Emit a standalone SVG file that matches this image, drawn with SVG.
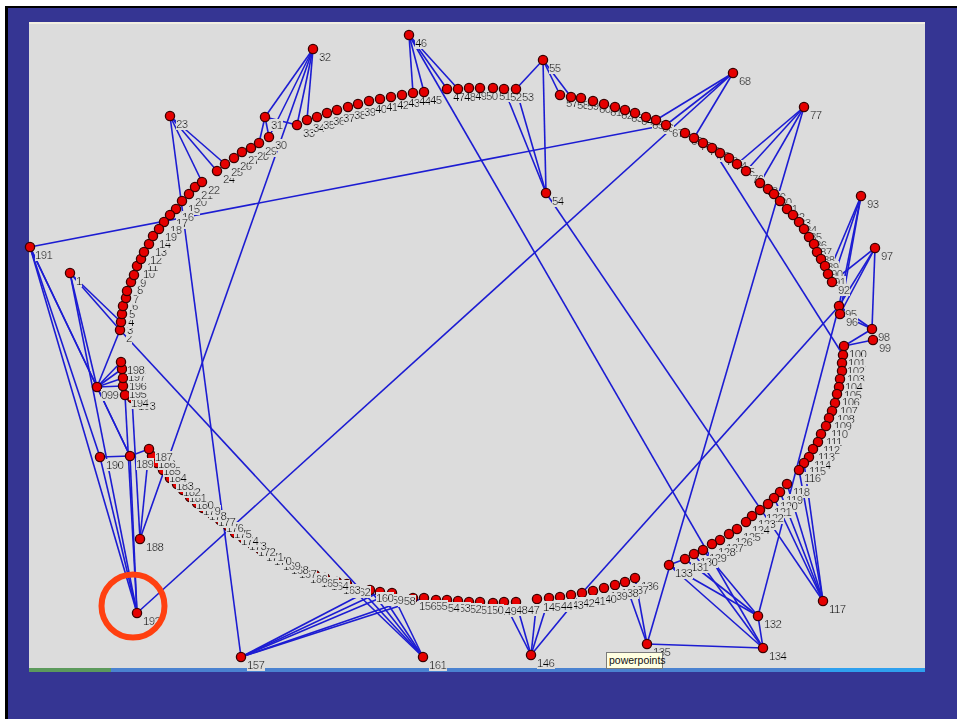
<svg xmlns="http://www.w3.org/2000/svg" width="957" height="719" viewBox="0 0 957 719">
<style>
.e line{stroke:#1c1cd2;stroke-width:1.6}
.nd circle{fill:#e60000;stroke:#3a0000;stroke-width:1.3}
.nd text{font-family:"Liberation Sans",Arial,sans-serif;font-size:11.5px;letter-spacing:-0.6px;fill:#000;filter:url(#bg)}
</style>
<defs>
<filter id="bg" x="0" y="0" width="1" height="1"><feFlood flood-color="#dcdcdc"/><feComposite in="SourceGraphic" operator="over"/></filter>
</defs>
<rect width="957" height="719" fill="#fff"/>
<rect x="5" y="6" width="952" height="713" fill="#000"/>
<rect x="8" y="8" width="949" height="711" fill="#353593"/>
<rect x="29" y="22" width="896" height="648" fill="#dcdcdc"/>
<rect x="29" y="22" width="896" height="2" fill="#f2efe2"/>
<rect x="29" y="668" width="82" height="4" fill="#5c9a5c"/>
<rect x="111" y="668" width="709" height="4" fill="#4a82d0"/>
<rect x="820" y="668" width="105" height="4" fill="#2fa0ee"/>
<g id="edges" class="e">
<line x1="30" y1="247" x2="666" y2="125"/>
<line x1="30" y1="247" x2="97" y2="387"/>
<line x1="30" y1="247" x2="130" y2="456"/>
<line x1="30" y1="247" x2="137" y2="613"/>
<line x1="30" y1="247" x2="100" y2="457"/>
<line x1="70" y1="273" x2="120" y2="330"/>
<line x1="70" y1="273" x2="121" y2="322"/>
<line x1="70" y1="273" x2="97" y2="387"/>
<line x1="70" y1="273" x2="137" y2="613"/>
<line x1="97" y1="387" x2="120" y2="330"/>
<line x1="97" y1="387" x2="121" y2="362"/>
<line x1="97" y1="387" x2="122" y2="369"/>
<line x1="97" y1="387" x2="123" y2="378"/>
<line x1="97" y1="387" x2="123" y2="386"/>
<line x1="97" y1="387" x2="130" y2="456"/>
<line x1="120" y1="330" x2="423" y2="657"/>
<line x1="125" y1="395" x2="137" y2="613"/>
<line x1="132" y1="398" x2="140" y2="539"/>
<line x1="100" y1="457" x2="130" y2="456"/>
<line x1="100" y1="457" x2="137" y2="613"/>
<line x1="130" y1="456" x2="137" y2="613"/>
<line x1="130" y1="456" x2="149" y2="449"/>
<line x1="149" y1="449" x2="140" y2="539"/>
<line x1="313" y1="49" x2="140" y2="539"/>
<line x1="170" y1="116" x2="241" y2="657"/>
<line x1="170" y1="116" x2="202" y2="182"/>
<line x1="170" y1="116" x2="217" y2="171"/>
<line x1="170" y1="116" x2="225" y2="164"/>
<line x1="313" y1="49" x2="265" y2="117"/>
<line x1="313" y1="49" x2="269" y2="137"/>
<line x1="313" y1="49" x2="297" y2="125"/>
<line x1="313" y1="49" x2="307" y2="120"/>
<line x1="265" y1="117" x2="297" y2="125"/>
<line x1="265" y1="117" x2="269" y2="137"/>
<line x1="265" y1="117" x2="259" y2="143"/>
<line x1="409" y1="35" x2="413" y2="93"/>
<line x1="409" y1="35" x2="424" y2="92"/>
<line x1="409" y1="35" x2="447" y2="89"/>
<line x1="409" y1="35" x2="458" y2="89"/>
<line x1="409" y1="35" x2="763" y2="648"/>
<line x1="543" y1="60" x2="516" y2="89"/>
<line x1="543" y1="60" x2="560" y2="95"/>
<line x1="543" y1="60" x2="571" y2="97"/>
<line x1="543" y1="60" x2="546" y2="193"/>
<line x1="546" y1="193" x2="504" y2="89"/>
<line x1="546" y1="193" x2="516" y2="89"/>
<line x1="546" y1="193" x2="823" y2="601"/>
<line x1="733" y1="73" x2="656" y2="120"/>
<line x1="733" y1="73" x2="666" y2="125"/>
<line x1="733" y1="73" x2="694" y2="138"/>
<line x1="733" y1="73" x2="137" y2="613"/>
<line x1="712" y1="148" x2="843" y2="355"/>
<line x1="804" y1="107" x2="737" y2="164"/>
<line x1="804" y1="107" x2="746" y2="171"/>
<line x1="804" y1="107" x2="760" y2="183"/>
<line x1="804" y1="107" x2="647" y2="644"/>
<line x1="861" y1="196" x2="828" y2="274"/>
<line x1="861" y1="196" x2="832" y2="282"/>
<line x1="861" y1="196" x2="839" y2="306"/>
<line x1="861" y1="196" x2="840" y2="314"/>
<line x1="875" y1="248" x2="832" y2="282"/>
<line x1="875" y1="248" x2="839" y2="306"/>
<line x1="875" y1="248" x2="840" y2="314"/>
<line x1="875" y1="248" x2="872" y2="329"/>
<line x1="872" y1="329" x2="839" y2="306"/>
<line x1="872" y1="329" x2="840" y2="314"/>
<line x1="872" y1="329" x2="844" y2="346"/>
<line x1="873" y1="340" x2="844" y2="346"/>
<line x1="839" y1="306" x2="758" y2="616"/>
<line x1="582" y1="593" x2="839" y2="306"/>
<line x1="823" y1="601" x2="804" y2="463"/>
<line x1="823" y1="601" x2="799" y2="470"/>
<line x1="823" y1="601" x2="787" y2="484"/>
<line x1="823" y1="601" x2="780" y2="492"/>
<line x1="823" y1="601" x2="774" y2="498"/>
<line x1="669" y1="565" x2="685" y2="559"/>
<line x1="669" y1="565" x2="758" y2="616"/>
<line x1="669" y1="565" x2="763" y2="648"/>
<line x1="685" y1="559" x2="758" y2="616"/>
<line x1="694" y1="554" x2="763" y2="648"/>
<line x1="703" y1="550" x2="758" y2="616"/>
<line x1="758" y1="616" x2="763" y2="648"/>
<line x1="647" y1="644" x2="763" y2="648"/>
<line x1="647" y1="644" x2="635" y2="578"/>
<line x1="647" y1="644" x2="625" y2="582"/>
<line x1="531" y1="655" x2="504" y2="602"/>
<line x1="531" y1="655" x2="516" y2="602"/>
<line x1="531" y1="655" x2="537" y2="599"/>
<line x1="531" y1="655" x2="549" y2="598"/>
<line x1="531" y1="655" x2="582" y2="593"/>
<line x1="241" y1="657" x2="370" y2="590"/>
<line x1="241" y1="657" x2="380" y2="592"/>
<line x1="241" y1="657" x2="392" y2="593"/>
<line x1="241" y1="657" x2="413" y2="598"/>
<line x1="241" y1="657" x2="424" y2="598"/>
<line x1="423" y1="657" x2="347" y2="584"/>
<line x1="423" y1="657" x2="370" y2="590"/>
<line x1="423" y1="657" x2="380" y2="592"/>
<line x1="423" y1="657" x2="392" y2="593"/>
</g>
<g id="nodes" class="nd">
<g id="n1"><circle cx="70" cy="273" r="4.6"/><text x="76" y="285">1</text></g>
<g id="n2"><circle cx="120" cy="330" r="4.6"/><text x="126" y="342">2</text></g>
<g id="n3"><circle cx="121" cy="322" r="4.6"/><text x="127" y="334">3</text></g>
<g id="n4"><circle cx="122" cy="314" r="4.6"/><text x="128" y="326">4</text></g>
<g id="n5"><circle cx="123" cy="306" r="4.6"/><text x="129" y="318">5</text></g>
<g id="n6"><circle cx="126" cy="298" r="4.6"/><text x="132" y="310">6</text></g>
<g id="n7"><circle cx="127" cy="291" r="4.6"/><text x="133" y="303">7</text></g>
<g id="n8"><circle cx="131" cy="282" r="4.6"/><text x="137" y="294">8</text></g>
<g id="n9"><circle cx="134" cy="275" r="4.6"/><text x="140" y="287">9</text></g>
<g id="n10"><circle cx="137" cy="266" r="4.6"/><text x="143" y="278">10</text></g>
<g id="n11"><circle cx="141" cy="259" r="4.6"/><text x="147" y="271">11</text></g>
<g id="n12"><circle cx="144" cy="252" r="4.6"/><text x="150" y="264">12</text></g>
<g id="n13"><circle cx="149" cy="244" r="4.6"/><text x="155" y="256">13</text></g>
<g id="n14"><circle cx="153" cy="236" r="4.6"/><text x="159" y="248">14</text></g>
<g id="n15"><circle cx="182" cy="201" r="4.6"/><text x="188" y="213">15</text></g>
<g id="n16"><circle cx="176" cy="209" r="4.6"/><text x="182" y="221">16</text></g>
<g id="n17"><circle cx="170" cy="215" r="4.6"/><text x="176" y="227">17</text></g>
<g id="n18"><circle cx="164" cy="222" r="4.6"/><text x="170" y="234">18</text></g>
<g id="n19"><circle cx="159" cy="229" r="4.6"/><text x="165" y="241">19</text></g>
<g id="n20"><circle cx="189" cy="194" r="4.6"/><text x="195" y="206">20</text></g>
<g id="n21"><circle cx="195" cy="187" r="4.6"/><text x="201" y="199">21</text></g>
<g id="n22"><circle cx="202" cy="182" r="4.6"/><text x="208" y="194">22</text></g>
<g id="n23"><circle cx="170" cy="116" r="4.6"/><text x="176" y="128">23</text></g>
<g id="n24"><circle cx="217" cy="171" r="4.6"/><text x="223" y="183">24</text></g>
<g id="n25"><circle cx="225" cy="164" r="4.6"/><text x="231" y="176">25</text></g>
<g id="n26"><circle cx="234" cy="158" r="4.6"/><text x="240" y="170">26</text></g>
<g id="n27"><circle cx="242" cy="152" r="4.6"/><text x="248" y="164">27</text></g>
<g id="n28"><circle cx="251" cy="148" r="4.6"/><text x="257" y="160">28</text></g>
<g id="n29"><circle cx="259" cy="143" r="4.6"/><text x="265" y="155">29</text></g>
<g id="n30"><circle cx="269" cy="137" r="4.6"/><text x="275" y="149">30</text></g>
<g id="n31"><circle cx="265" cy="117" r="4.6"/><text x="271" y="129">31</text></g>
<g id="n32"><circle cx="313" cy="49" r="4.6"/><text x="319" y="61">32</text></g>
<g id="n33"><circle cx="297" cy="125" r="4.6"/><text x="303" y="137">33</text></g>
<g id="n34"><circle cx="307" cy="120" r="4.6"/><text x="313" y="132">34</text></g>
<g id="n35"><circle cx="317" cy="117" r="4.6"/><text x="323" y="129">35</text></g>
<g id="n36"><circle cx="327" cy="113" r="4.6"/><text x="333" y="125">36</text></g>
<g id="n37"><circle cx="337" cy="110" r="4.6"/><text x="343" y="122">37</text></g>
<g id="n38"><circle cx="348" cy="107" r="4.6"/><text x="354" y="119">38</text></g>
<g id="n39"><circle cx="358" cy="104" r="4.6"/><text x="364" y="116">39</text></g>
<g id="n40"><circle cx="369" cy="101" r="4.6"/><text x="375" y="113">40</text></g>
<g id="n41"><circle cx="380" cy="99" r="4.6"/><text x="386" y="111">41</text></g>
<g id="n42"><circle cx="391" cy="97" r="4.6"/><text x="397" y="109">42</text></g>
<g id="n43"><circle cx="402" cy="95" r="4.6"/><text x="408" y="107">43</text></g>
<g id="n44"><circle cx="413" cy="93" r="4.6"/><text x="419" y="105">44</text></g>
<g id="n45"><circle cx="424" cy="92" r="4.6"/><text x="430" y="104">45</text></g>
<g id="n46"><circle cx="409" cy="35" r="4.6"/><text x="415" y="47">46</text></g>
<g id="n47"><circle cx="447" cy="89" r="4.6"/><text x="453" y="101">47</text></g>
<g id="n48"><circle cx="458" cy="89" r="4.6"/><text x="464" y="101">48</text></g>
<g id="n49"><circle cx="469" cy="88" r="4.6"/><text x="475" y="100">49</text></g>
<g id="n50"><circle cx="480" cy="88" r="4.6"/><text x="486" y="100">50</text></g>
<g id="n51"><circle cx="493" cy="88" r="4.6"/><text x="499" y="100">51</text></g>
<g id="n52"><circle cx="504" cy="89" r="4.6"/><text x="510" y="101">52</text></g>
<g id="n53"><circle cx="516" cy="89" r="4.6"/><text x="522" y="101">53</text></g>
<g id="n54"><circle cx="546" cy="193" r="4.6"/><text x="552" y="205">54</text></g>
<g id="n55"><circle cx="543" cy="60" r="4.6"/><text x="549" y="72">55</text></g>
<g id="n57"><circle cx="560" cy="95" r="4.6"/><text x="566" y="107">57</text></g>
<g id="n58"><circle cx="571" cy="97" r="4.6"/><text x="577" y="109">58</text></g>
<g id="n59"><circle cx="581" cy="98" r="4.6"/><text x="587" y="110">59</text></g>
<g id="n60"><circle cx="593" cy="101" r="4.6"/><text x="599" y="113">60</text></g>
<g id="n61"><circle cx="604" cy="104" r="4.6"/><text x="610" y="116">61</text></g>
<g id="n62"><circle cx="615" cy="107" r="4.6"/><text x="621" y="119">62</text></g>
<g id="n63"><circle cx="625" cy="110" r="4.6"/><text x="631" y="122">63</text></g>
<g id="n64"><circle cx="635" cy="113" r="4.6"/><text x="641" y="125">64</text></g>
<g id="n65"><circle cx="646" cy="117" r="4.6"/><text x="652" y="129">65</text></g>
<g id="n66"><circle cx="656" cy="120" r="4.6"/><text x="662" y="132">66</text></g>
<g id="n67"><circle cx="666" cy="125" r="4.6"/><text x="672" y="137">67</text></g>
<g id="n68"><circle cx="733" cy="73" r="4.6"/><text x="739" y="85">68</text></g>
<g id="n69"><circle cx="685" cy="133" r="4.6"/><text x="691" y="145">69</text></g>
<g id="n70"><circle cx="694" cy="138" r="4.6"/><text x="700" y="150">70</text></g>
<g id="n71"><circle cx="703" cy="143" r="4.6"/><text x="709" y="155">71</text></g>
<g id="n72"><circle cx="712" cy="148" r="4.6"/><text x="718" y="160">72</text></g>
<g id="n73"><circle cx="720" cy="153" r="4.6"/><text x="726" y="165">73</text></g>
<g id="n74"><circle cx="729" cy="158" r="4.6"/><text x="735" y="170">74</text></g>
<g id="n75"><circle cx="737" cy="164" r="4.6"/><text x="743" y="176">75</text></g>
<g id="n76"><circle cx="746" cy="171" r="4.6"/><text x="752" y="183">76</text></g>
<g id="n77"><circle cx="804" cy="107" r="4.6"/><text x="810" y="119">77</text></g>
<g id="n78"><circle cx="760" cy="183" r="4.6"/><text x="766" y="195">78</text></g>
<g id="n79"><circle cx="768" cy="189" r="4.6"/><text x="774" y="201">79</text></g>
<g id="n80"><circle cx="774" cy="194" r="4.6"/><text x="780" y="206">80</text></g>
<g id="n81"><circle cx="780" cy="201" r="4.6"/><text x="786" y="213">81</text></g>
<g id="n82"><circle cx="787" cy="209" r="4.6"/><text x="793" y="221">82</text></g>
<g id="n83"><circle cx="793" cy="215" r="4.6"/><text x="799" y="227">83</text></g>
<g id="n84"><circle cx="799" cy="222" r="4.6"/><text x="805" y="234">84</text></g>
<g id="n85"><circle cx="804" cy="229" r="4.6"/><text x="810" y="241">85</text></g>
<g id="n86"><circle cx="809" cy="237" r="4.6"/><text x="815" y="249">86</text></g>
<g id="n87"><circle cx="814" cy="244" r="4.6"/><text x="820" y="256">87</text></g>
<g id="n88"><circle cx="817" cy="252" r="4.6"/><text x="823" y="264">88</text></g>
<g id="n89"><circle cx="821" cy="259" r="4.6"/><text x="827" y="271">89</text></g>
<g id="n90"><circle cx="825" cy="266" r="4.6"/><text x="831" y="278">90</text></g>
<g id="n91"><circle cx="828" cy="274" r="4.6"/><text x="834" y="286">91</text></g>
<g id="n92"><circle cx="832" cy="282" r="4.6"/><text x="838" y="294">92</text></g>
<g id="n93"><circle cx="861" cy="196" r="4.6"/><text x="867" y="208">93</text></g>
<g id="n95"><circle cx="839" cy="306" r="4.6"/><text x="845" y="318">95</text></g>
<g id="n96"><circle cx="840" cy="314" r="4.6"/><text x="846" y="326">96</text></g>
<g id="n97"><circle cx="875" cy="248" r="4.6"/><text x="881" y="260">97</text></g>
<g id="n98"><circle cx="872" cy="329" r="4.6"/><text x="878" y="341">98</text></g>
<g id="n99"><circle cx="873" cy="340" r="4.6"/><text x="879" y="352">99</text></g>
<g id="n100"><circle cx="844" cy="346" r="4.6"/><text x="849" y="358">100</text></g>
<g id="n101"><circle cx="843" cy="355" r="4.6"/><text x="848" y="367">101</text></g>
<g id="n102"><circle cx="842" cy="363" r="4.6"/><text x="847" y="375">102</text></g>
<g id="n103"><circle cx="842" cy="371" r="4.6"/><text x="847" y="383">103</text></g>
<g id="n104"><circle cx="840" cy="379" r="4.6"/><text x="845" y="391">104</text></g>
<g id="n105"><circle cx="839" cy="387" r="4.6"/><text x="844" y="399">105</text></g>
<g id="n106"><circle cx="837" cy="394" r="4.6"/><text x="842" y="406">106</text></g>
<g id="n107"><circle cx="835" cy="403" r="4.6"/><text x="840" y="415">107</text></g>
<g id="n108"><circle cx="832" cy="411" r="4.6"/><text x="837" y="423">108</text></g>
<g id="n109"><circle cx="829" cy="418" r="4.6"/><text x="834" y="430">109</text></g>
<g id="n110"><circle cx="826" cy="426" r="4.6"/><text x="831" y="438">110</text></g>
<g id="n111"><circle cx="821" cy="434" r="4.6"/><text x="826" y="446">111</text></g>
<g id="n112"><circle cx="818" cy="442" r="4.6"/><text x="823" y="454">112</text></g>
<g id="n113"><circle cx="813" cy="449" r="4.6"/><text x="818" y="461">113</text></g>
<g id="n114"><circle cx="809" cy="457" r="4.6"/><text x="814" y="469">114</text></g>
<g id="n115"><circle cx="804" cy="463" r="4.6"/><text x="809" y="475">115</text></g>
<g id="n116"><circle cx="799" cy="470" r="4.6"/><text x="804" y="482">116</text></g>
<g id="n117"><circle cx="823" cy="601" r="4.6"/><text x="829" y="613">117</text></g>
<g id="n118"><circle cx="787" cy="484" r="4.6"/><text x="793" y="496">118</text></g>
<g id="n119"><circle cx="780" cy="492" r="4.6"/><text x="786" y="504">119</text></g>
<g id="n120"><circle cx="774" cy="498" r="4.6"/><text x="780" y="510">120</text></g>
<g id="n121"><circle cx="768" cy="504" r="4.6"/><text x="774" y="516">121</text></g>
<g id="n122"><circle cx="760" cy="510" r="4.6"/><text x="766" y="522">122</text></g>
<g id="n123"><circle cx="752" cy="516" r="4.6"/><text x="758" y="528">123</text></g>
<g id="n124"><circle cx="746" cy="522" r="4.6"/><text x="752" y="534">124</text></g>
<g id="n125"><circle cx="737" cy="529" r="4.6"/><text x="743" y="541">125</text></g>
<g id="n126"><circle cx="729" cy="534" r="4.6"/><text x="735" y="546">126</text></g>
<g id="n127"><circle cx="720" cy="540" r="4.6"/><text x="726" y="552">127</text></g>
<g id="n128"><circle cx="712" cy="544" r="4.6"/><text x="718" y="556">128</text></g>
<g id="n129"><circle cx="703" cy="550" r="4.6"/><text x="709" y="562">129</text></g>
<g id="n130"><circle cx="694" cy="554" r="4.6"/><text x="700" y="566">130</text></g>
<g id="n131"><circle cx="685" cy="559" r="4.6"/><text x="691" y="571">131</text></g>
<g id="n132"><circle cx="758" cy="616" r="4.6"/><text x="764" y="628">132</text></g>
<g id="n133"><circle cx="669" cy="565" r="4.6"/><text x="675" y="577">133</text></g>
<g id="n134"><circle cx="763" cy="648" r="4.6"/><text x="769" y="660">134</text></g>
<g id="n135"><circle cx="647" cy="644" r="4.6"/><text x="653" y="656">135</text></g>
<g id="n136"><circle cx="635" cy="578" r="4.6"/><text x="641" y="590">136</text></g>
<g id="n137"><circle cx="625" cy="582" r="4.6"/><text x="631" y="594">137</text></g>
<g id="n138"><circle cx="615" cy="585" r="4.6"/><text x="621" y="597">138</text></g>
<g id="n139"><circle cx="604" cy="588" r="4.6"/><text x="610" y="600">139</text></g>
<g id="n140"><circle cx="593" cy="591" r="4.6"/><text x="599" y="603">140</text></g>
<g id="n141"><circle cx="582" cy="593" r="4.6"/><text x="588" y="605">141</text></g>
<g id="n142"><circle cx="571" cy="595" r="4.6"/><text x="577" y="607">142</text></g>
<g id="n143"><circle cx="560" cy="597" r="4.6"/><text x="566" y="609">143</text></g>
<g id="n144"><circle cx="549" cy="598" r="4.6"/><text x="555" y="610">144</text></g>
<g id="n145"><circle cx="537" cy="599" r="4.6"/><text x="543" y="611">145</text></g>
<g id="n146"><circle cx="531" cy="655" r="4.6"/><text x="537" y="667">146</text></g>
<g id="n147"><circle cx="516" cy="602" r="4.6"/><text x="522" y="614">147</text></g>
<g id="n148"><circle cx="504" cy="602" r="4.6"/><text x="510" y="614">148</text></g>
<g id="n149"><circle cx="493" cy="603" r="4.6"/><text x="499" y="615">149</text></g>
<g id="n150"><circle cx="480" cy="602" r="4.6"/><text x="486" y="614">150</text></g>
<g id="n151"><circle cx="469" cy="602" r="4.6"/><text x="475" y="614">151</text></g>
<g id="n152"><circle cx="458" cy="601" r="4.6"/><text x="464" y="613">152</text></g>
<g id="n153"><circle cx="447" cy="600" r="4.6"/><text x="453" y="612">153</text></g>
<g id="n154"><circle cx="436" cy="600" r="4.6"/><text x="442" y="612">154</text></g>
<g id="n155"><circle cx="424" cy="598" r="4.6"/><text x="430" y="610">155</text></g>
<g id="n156"><circle cx="413" cy="598" r="4.6"/><text x="419" y="610">156</text></g>
<g id="n157"><circle cx="241" cy="657" r="4.6"/><text x="247" y="669">157</text></g>
<g id="n158"><circle cx="392" cy="593" r="4.6"/><text x="398" y="605">158</text></g>
<g id="n159"><circle cx="380" cy="592" r="4.6"/><text x="386" y="604">159</text></g>
<g id="n160"><circle cx="370" cy="590" r="4.6"/><text x="376" y="602">160</text></g>
<g id="n161"><circle cx="423" cy="657" r="4.6"/><text x="429" y="669">161</text></g>
<g id="n162"><circle cx="347" cy="584" r="4.6"/><text x="353" y="596">162</text></g>
<g id="n163"><circle cx="337" cy="582" r="4.6"/><text x="343" y="594">163</text></g>
<g id="n164"><circle cx="325" cy="578" r="4.6"/><text x="331" y="590">164</text></g>
<g id="n165"><circle cx="315" cy="575" r="4.6"/><text x="321" y="587">165</text></g>
<g id="n166"><circle cx="304" cy="571" r="4.6"/><text x="310" y="583">166</text></g>
<g id="n167"><circle cx="293" cy="566" r="4.6"/><text x="299" y="578">167</text></g>
<g id="n168"><circle cx="285" cy="562" r="4.6"/><text x="291" y="574">168</text></g>
<g id="n169"><circle cx="277" cy="558" r="4.6"/><text x="283" y="570">169</text></g>
<g id="n170"><circle cx="268" cy="553" r="4.6"/><text x="274" y="565">170</text></g>
<g id="n171"><circle cx="260" cy="549" r="4.6"/><text x="266" y="561">171</text></g>
<g id="n172"><circle cx="252" cy="544" r="4.6"/><text x="258" y="556">172</text></g>
<g id="n173"><circle cx="243" cy="538" r="4.6"/><text x="249" y="550">173</text></g>
<g id="n174"><circle cx="235" cy="533" r="4.6"/><text x="241" y="545">174</text></g>
<g id="n175"><circle cx="228" cy="526" r="4.6"/><text x="234" y="538">175</text></g>
<g id="n176"><circle cx="220" cy="520" r="4.6"/><text x="226" y="532">176</text></g>
<g id="n177"><circle cx="212" cy="514" r="4.6"/><text x="218" y="526">177</text></g>
<g id="n178"><circle cx="203" cy="508" r="4.6"/><text x="209" y="520">178</text></g>
<g id="n179"><circle cx="197" cy="503" r="4.6"/><text x="203" y="515">179</text></g>
<g id="n180"><circle cx="190" cy="497" r="4.6"/><text x="196" y="509">180</text></g>
<g id="n181"><circle cx="183" cy="490" r="4.6"/><text x="189" y="502">181</text></g>
<g id="n182"><circle cx="177" cy="484" r="4.6"/><text x="183" y="496">182</text></g>
<g id="n183"><circle cx="170" cy="478" r="4.6"/><text x="176" y="490">183</text></g>
<g id="n184"><circle cx="163" cy="470" r="4.6"/><text x="169" y="482">184</text></g>
<g id="n185"><circle cx="157" cy="463" r="4.6"/><text x="163" y="475">185</text></g>
<g id="n186"><circle cx="152" cy="456" r="4.6"/><text x="158" y="468">186</text></g>
<g id="n187"><circle cx="149" cy="449" r="4.6"/><text x="155" y="461">187</text></g>
<g id="n188"><circle cx="140" cy="539" r="4.6"/><text x="146" y="551">188</text></g>
<g id="n189"><circle cx="130" cy="456" r="4.6"/><text x="136" y="468">189</text></g>
<g id="n190"><circle cx="100" cy="457" r="4.6"/><text x="106" y="469">190</text></g>
<g id="n191"><circle cx="30" cy="247" r="4.6"/><text x="35" y="259">191</text></g>
<g id="n192"><circle cx="137" cy="613" r="4.6"/><text x="143" y="625">192</text></g>
<g id="n193"><circle cx="132" cy="398" r="4.6"/><text x="138" y="410">193</text></g>
<g id="n194"><circle cx="125" cy="395" r="4.6"/><text x="131" y="407">194</text></g>
<g id="n195"><circle cx="123" cy="386" r="4.6"/><text x="129" y="398">195</text></g>
<g id="n196"><circle cx="123" cy="378" r="4.6"/><text x="129" y="390">196</text></g>
<g id="n197"><circle cx="122" cy="369" r="4.6"/><text x="128" y="381">197</text></g>
<g id="n198"><circle cx="121" cy="362" r="4.6"/><text x="127" y="374">198</text></g>
<g id="n199"><circle cx="97" cy="387" r="4.6"/><text x="101" y="399">099</text></g>
</g>
<g id="tooltip">
<rect x="606.5" y="652.5" width="56" height="16" fill="#ffffe1" stroke="#7a7a7a"/>
<text x="609" y="664" font-family="Liberation Sans, Arial, sans-serif" font-size="10.5" fill="#111">powerpoints</text>
</g>
<circle id="highlight" cx="133" cy="606" r="31.5" fill="none" stroke="#ff4010" stroke-width="6"/>
</svg>
